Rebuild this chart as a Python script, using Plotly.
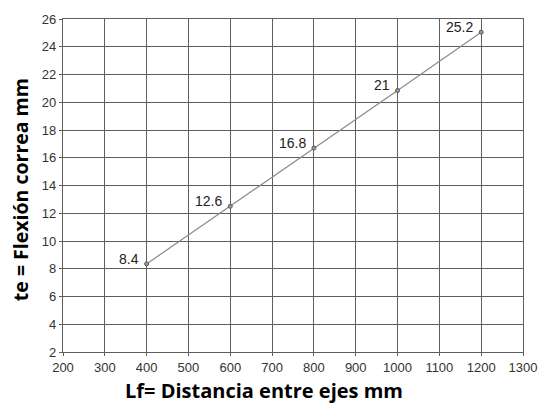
import plotly.graph_objects as go

distancia_mm = [400, 600, 800, 1000, 1200]
flexion_mm = [8.35, 12.5, 16.7, 20.85, 25.05]
point_labels = ["8.4", "12.6", "16.8", "21", "25.2"]
x_ticks = list(range(200, 1301, 100))
y_ticks = list(range(2, 27, 2))

grid_col = "#5e5e5e"
fig = go.Figure()
fig.add_trace(go.Scatter(
    x=distancia_mm, y=flexion_mm, mode="lines+markers",
    line=dict(color="#8a8a8a", width=1.2),
    marker=dict(size=4, color="#9a9a9a", line=dict(color="#555", width=1)),
    showlegend=False, hoverinfo="skip"))

for xv, yv, lab in zip(distancia_mm, flexion_mm, point_labels):
    fig.add_annotation(x=xv, y=yv, text=lab, showarrow=False,
                       xanchor="right", yanchor="middle", xshift=-6, yshift=5,
                       font=dict(family="Liberation Sans, Arial", size=14, color="#222"))

fig.add_annotation(xref="paper", yref="paper", x=0.436, y=-0.115,
                   xanchor="center", yanchor="middle",
                   text="<b>Lf= Distancia entre ejes mm</b>", showarrow=False,
                   font=dict(family="Open Sans", size=20, color="#000"))
fig.add_annotation(xref="paper", yref="paper", x=-0.092, y=0.488, textangle=-90,
                   xanchor="center", yanchor="middle",
                   text="<b>te = Flexión correa mm</b>", showarrow=False,
                   font=dict(family="Open Sans", size=19.5, color="#000"))

axis_common = dict(showgrid=True, gridcolor=grid_col, gridwidth=1.4,
                   showline=True, linecolor=grid_col, linewidth=1.4, mirror=True,
                   ticks="outside", ticklen=3, tickcolor=grid_col, zeroline=False,
                   tickfont=dict(family="Liberation Sans, Arial", size=13, color="#333"))
fig.update_xaxes(range=[200, 1300], tickvals=x_ticks, **axis_common)
fig.update_yaxes(range=[2, 26], tickvals=y_ticks, **axis_common)

fig.update_layout(width=549, height=405, margin=dict(l=63, r=18, t=12, b=53),
                  plot_bgcolor="white", paper_bgcolor="white")
# remove the default 8px body margin so the figure sits at the page origin
fig.write_html("out.html", config={"displayModeBar": False},
               post_script="document.body.style.margin='0';")
